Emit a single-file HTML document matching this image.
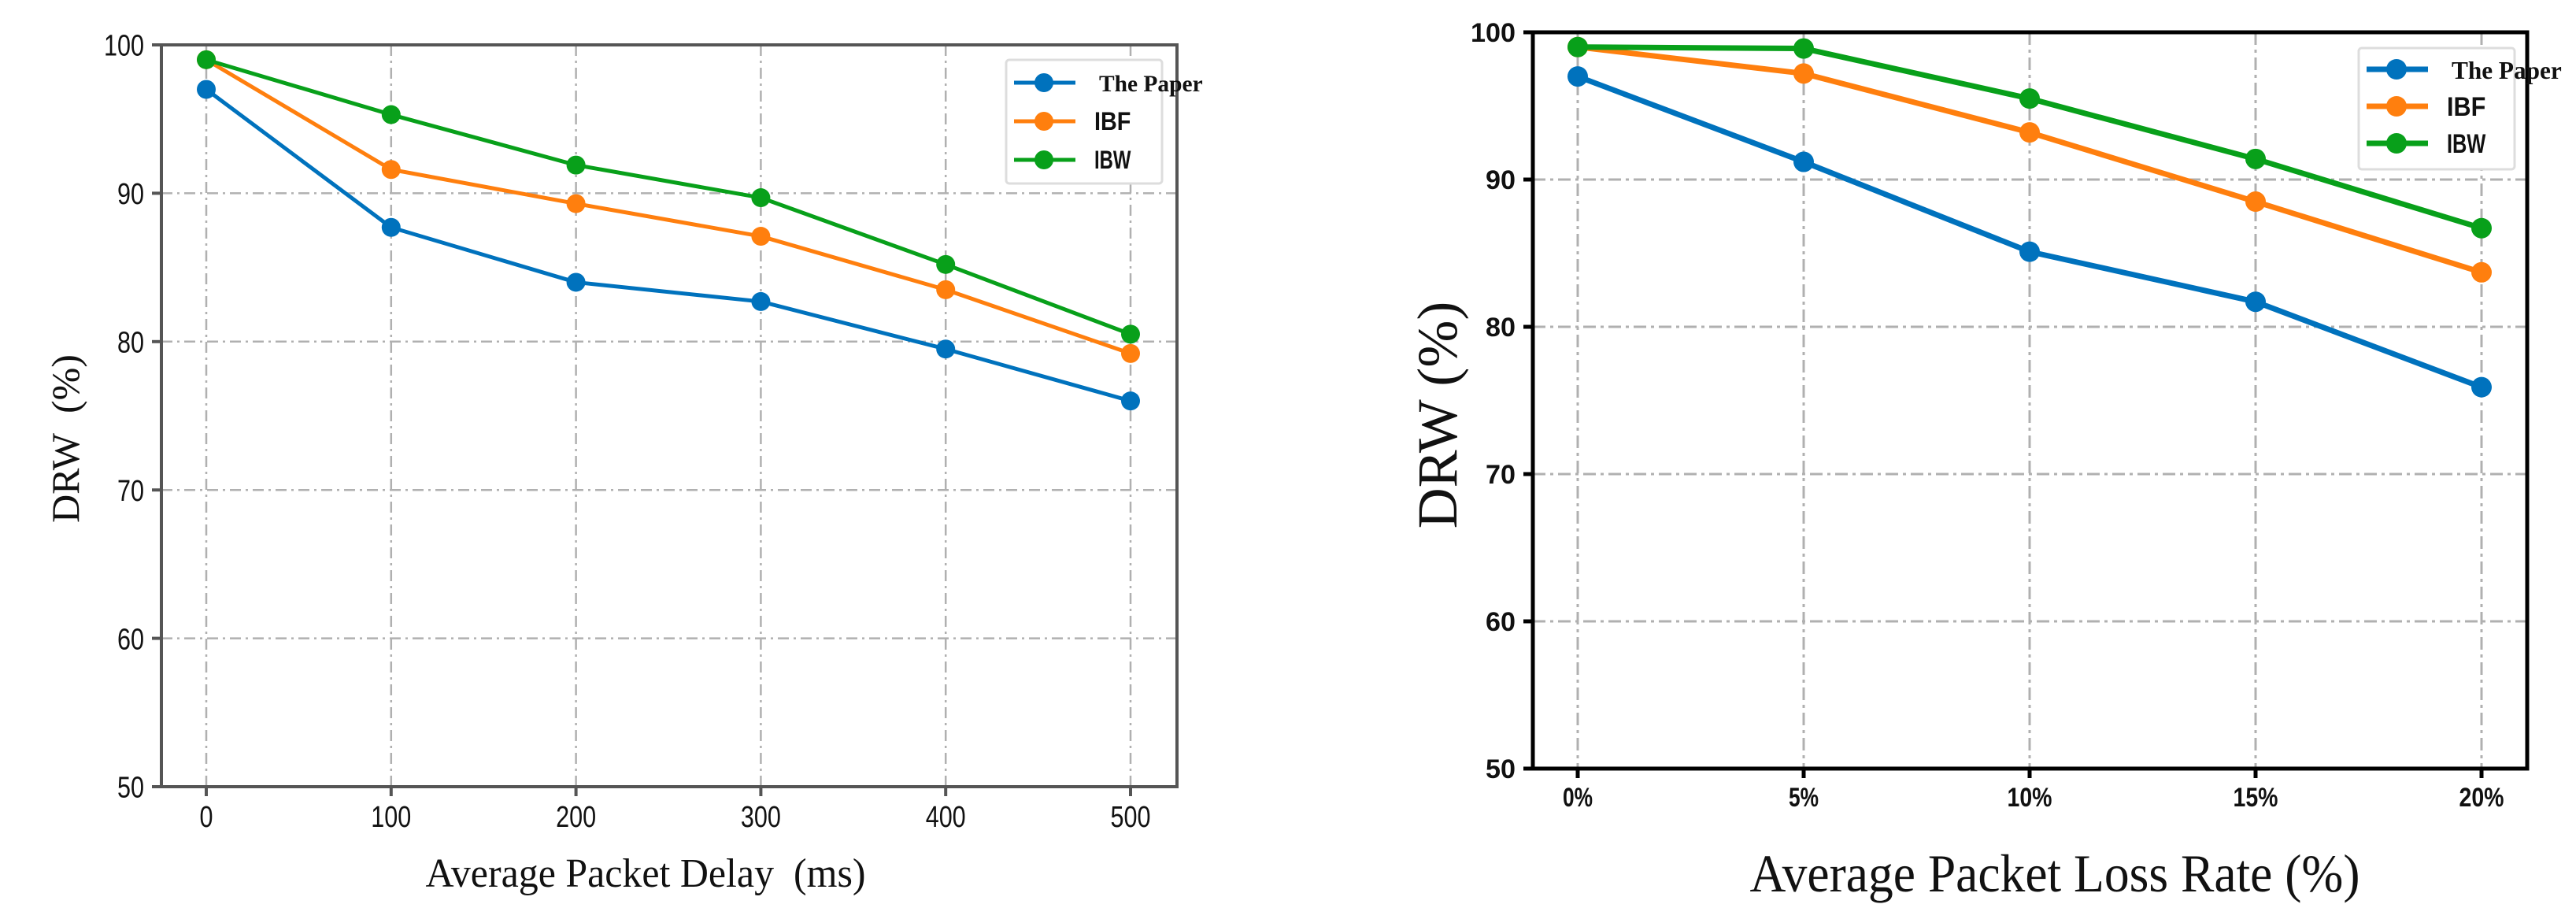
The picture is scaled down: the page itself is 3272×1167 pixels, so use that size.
<!DOCTYPE html>
<html><head><meta charset="utf-8"><style>
html,body{margin:0;padding:0;background:#fff;}
svg{display:block;}
</style></head><body>
<svg id="root" width="3272" height="1167" xmlns="http://www.w3.org/2000/svg"></svg>
<script>
const leftCats = ["0","100","200","300","400","500"];
const leftPaper = [97, 87.7, 84, 82.7, 79.5, 76];
const leftIBF = [99, 91.6, 89.3, 87.1, 83.5, 79.2];
const leftIBW = [99, 95.3, 91.9, 89.7, 85.2, 80.5];
const rightCats = ["0%","5%","10%","15%","20%"];
const rightPaper = [97, 91.2, 85.1, 81.7, 75.9];
const rightIBF = [99, 97.2, 93.2, 88.5, 83.7];
const rightIBW = [99, 98.9, 95.5, 91.4, 86.7];
const yTicks = [50, 60, 70, 80, 90, 100];
const seriesNames = ["The Paper", "IBF", "IBW"];

const NS = "http://www.w3.org/2000/svg";
const root = document.getElementById("root");
const colors = ["#0072bd", "#ff7f0e", "#08a01a"];
function mk(tag, attrs, parent, text){
  const e = document.createElementNS(NS, tag);
  for (const k in attrs) e.setAttribute(k, attrs[k]);
  if (text !== undefined) e.textContent = text;
  parent.appendChild(e);
  return e;
}

function chart(cfg){
  const g = mk("g", {}, root);
  
  
  const xs = i => cfg.x0 + i * cfg.xStep;
  const ys = v => cfg.yBottom - (v - 50) / 50 * (cfg.yBottom - cfg.yTop);
  yTicks.forEach(t => {
    if (t === 50) return;
    const l = mk("line", {x1: cfg.left, x2: cfg.right, y1: ys(t), y2: ys(t), stroke: "#b0b0b0", "stroke-width": cfg.gw, "stroke-dasharray": cfg.dash}, g);
    
    
  });
  cfg.cats.forEach((c, i) => {
    const l = mk("line", {x1: xs(i), x2: xs(i), y1: cfg.yTop, y2: cfg.yBottom, stroke: "#b0b0b0", "stroke-width": cfg.gw, "stroke-dasharray": cfg.dash}, g);
    
    
  });
  const fr = mk("rect", {x: cfg.left, y: cfg.yTop, width: cfg.right - cfg.left, height: cfg.yBottom - cfg.yTop, fill: "none", stroke: cfg.axisColor, "stroke-width": cfg.aw}, g);
  
  
  yTicks.forEach(t => {
    const tk = mk("line", {x1: cfg.left - 12, x2: cfg.left, y1: ys(t), y2: ys(t), stroke: cfg.axisColor, "stroke-width": cfg.aw}, g);
    
    
    const s = String(t);
    const tx = mk("text", {x: cfg.left - 22, y: ys(t) + cfg.tfs * 0.36, "text-anchor": "end", "font-size": cfg.tfs, "font-family": cfg.tickFont, fill: "#111", "font-weight": cfg.tickWeight, textLength: s.length * cfg.charW, lengthAdjust: "spacingAndGlyphs"}, g, s);
    
    
  });
  cfg.cats.forEach((c, i) => {
    const tk = mk("line", {x1: xs(i), x2: xs(i), y1: cfg.yBottom, y2: cfg.yBottom + 12, stroke: cfg.axisColor, "stroke-width": cfg.aw}, g);
    
    
    const tx = mk("text", {x: xs(i), y: cfg.yBottom + cfg.xlOff, "text-anchor": "middle", "font-size": cfg.tfs, "font-family": cfg.tickFont, fill: "#111", "font-weight": cfg.tickWeight, textLength: c.length * cfg.charW, lengthAdjust: "spacingAndGlyphs"}, g, c);
    
    
  });
  cfg.series.forEach((vals, si) => {
    const sg = mk("g", {}, g);
    
    
    const pts = vals.map((v, i) => xs(i) + "," + ys(v)).join(" ");
    const pl = mk("polyline", {points: pts, fill: "none", stroke: colors[si], "stroke-width": cfg.lw, "stroke-linejoin": "round"}, sg);
    
    
    vals.forEach((v, i) => {
      const c = mk("circle", {cx: xs(i), cy: ys(v), r: cfg.mr, fill: colors[si]}, sg);
      
      
    });
  });
  const lg = mk("g", {}, g);
  
  
  const lb = mk("rect", {x: cfg.lgx, y: cfg.lgy, width: cfg.lgw, height: cfg.lgh, rx: 4, fill: "#fff", stroke: "#dddddd", "stroke-width": 3}, lg);
  
  
  seriesNames.forEach((n, si) => {
    const y = cfg.lgy + cfg.lgRow0 + si * cfg.lgRowStep;
    const e = mk("g", {}, lg);
    
    
    mk("line", {x1: cfg.lgx + 10, x2: cfg.lgx + 88, y1: y, y2: y, stroke: colors[si], "stroke-width": cfg.lw}, e);
    mk("circle", {cx: cfg.lgx + 48, cy: y, r: cfg.mr, fill: colors[si]}, e);
    const isPaper = si === 0;
    const attrs = {x: cfg.lgx + cfg.lgTextOff + (isPaper ? 6 : 0), y: y + cfg.lfs * 0.35, "font-size": isPaper ? cfg.lfs * 0.92 : cfg.lfs, "font-family": isPaper ? "Liberation Serif, serif" : cfg.tickFont, "font-weight": "bold", fill: "#111"};
    if (!isPaper) { attrs.textLength = cfg.lfs * 1.45; attrs.lengthAdjust = "spacingAndGlyphs"; }
    const t = mk("text", attrs, e, n);
    
    
  });
  const xt = mk("text", {x: cfg.xtX, y: cfg.xtY, "text-anchor": "middle", "font-size": cfg.tifs, "font-family": "Liberation Serif, serif", fill: "#111", textLength: cfg.xtLen, lengthAdjust: "spacingAndGlyphs"}, g, cfg.xTitle);
  
  
  const yt = mk("text", {x: 0, y: 0, "text-anchor": "middle", "font-size": cfg.yifs, "font-family": "Liberation Serif, serif", fill: "#111", transform: "translate(" + cfg.ytX + "," + cfg.ytY + ") rotate(-90)"}, g, cfg.yTitle);
  
  
}

chart({name: "left-chart", cats: leftCats, series: [leftPaper, leftIBF, leftIBW],
  left: 205, right: 1495, yTop: 57, yBottom: 999, x0: 262, xStep: 234.8,
  axisColor: "#555", aw: 4, gw: 2.5, dash: "14 6 3 6", lw: 5, mr: 12,
  tfs: 38, charW: 17, tickFont: "Liberation Sans, sans-serif", tickWeight: "normal", xlOff: 51,
  lgx: 1278, lgy: 76, lgw: 198, lgh: 157, lgRow0: 29, lgRowStep: 49, lfs: 32, lgTextOff: 112,
  xTitle: "Average Packet Delay\u00a0 (ms)", xtX: 820, xtY: 1126, tifs: 52, xtLen: 559,
  yTitle: "DRW\u00a0 (%)", ytX: 100, ytY: 557, yifs: 50});

chart({name: "right-chart", cats: rightCats, series: [rightPaper, rightIBF, rightIBW],
  left: 1947, right: 3210, yTop: 41, yBottom: 976, x0: 2004, xStep: 287,
  axisColor: "#000", aw: 5, gw: 3, dash: "16 6 4 6", lw: 7, mr: 13,
  tfs: 34, charW: 19, tickFont: "Liberation Sans Narrow, Liberation Sans, sans-serif", tickWeight: "bold", xlOff: 48,
  lgx: 2996, lgy: 61, lgw: 198, lgh: 154, lgRow0: 27, lgRowStep: 47, lfs: 34, lgTextOff: 112,
  xTitle: "Average Packet Loss Rate (%)", xtX: 2610, xtY: 1132, tifs: 68, xtLen: 775,
  yTitle: "DRW (%)", ytX: 1850, ytY: 527, yifs: 72});
</script>
</body></html>
